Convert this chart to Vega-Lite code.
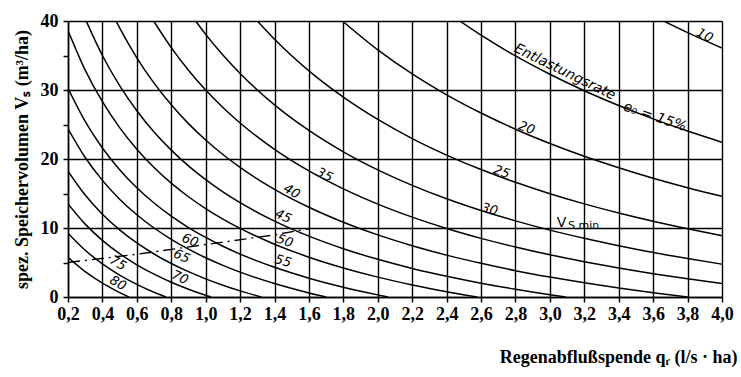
{
"$schema": "https://vega.github.io/schema/vega-lite/v6.json",
"width": 654, "height": 276,
"autosize": "none",
"padding": {"left": 68, "top": 21, "right": 19, "bottom": 80},
"background": "white",
"config": {"view": {"stroke": null}, "axis": {"labelOverlap": false, "labelSeparation": 0}},
"datasets": {
"curves": [
{"e":80,"q":0.2,"v":5.75},{"e":80,"q":0.3,"v":3.67},{"e":80,"q":0.4,"v":2.0},{"e":80,"q":0.5,"v":0.64},{"e":80,"q":0.554,"v":0},
{"e":75,"q":0.2,"v":9.25},{"e":75,"q":0.3,"v":6.78},{"e":75,"q":0.4,"v":4.8},{"e":75,"q":0.5,"v":3.18},{"e":75,"q":0.6,"v":1.83},{"e":75,"q":0.7,"v":0.69},{"e":75,"q":0.769,"v":0},
{"e":70,"q":0.2,"v":13.5},{"e":70,"q":0.3,"v":10.56},{"e":70,"q":0.4,"v":8.2},{"e":70,"q":0.5,"v":6.27},{"e":70,"q":0.6,"v":4.67},{"e":70,"q":0.7,"v":3.31},{"e":70,"q":0.8,"v":2.14},{"e":70,"q":0.9,"v":1.13},{"e":70,"q":1.0,"v":0.25},{"e":70,"q":1.031,"v":0},
{"e":65,"q":0.2,"v":18.25},{"e":65,"q":0.3,"v":14.78},{"e":65,"q":0.4,"v":12.0},{"e":65,"q":0.5,"v":9.73},{"e":65,"q":0.6,"v":7.83},{"e":65,"q":0.7,"v":6.23},{"e":65,"q":0.8,"v":4.86},{"e":65,"q":0.9,"v":3.67},{"e":65,"q":1.0,"v":2.63},{"e":65,"q":1.1,"v":1.71},{"e":65,"q":1.2,"v":0.89},{"e":65,"q":1.323,"v":0},
{"e":60,"q":0.2,"v":24.38},{"e":60,"q":0.3,"v":20.22},{"e":60,"q":0.4,"v":16.9},{"e":60,"q":0.5,"v":14.18},{"e":60,"q":0.6,"v":11.92},{"e":60,"q":0.7,"v":10.0},{"e":60,"q":0.8,"v":8.36},{"e":60,"q":0.9,"v":6.93},{"e":60,"q":1.0,"v":5.69},{"e":60,"q":1.1,"v":4.59},{"e":60,"q":1.2,"v":3.61},{"e":60,"q":1.4,"v":1.95},{"e":60,"q":1.6,"v":0.59},{"e":60,"q":1.7,"v":0},
{"e":55,"q":0.2,"v":30.25},{"e":55,"q":0.3,"v":25.44},{"e":55,"q":0.4,"v":21.6},{"e":55,"q":0.5,"v":18.45},{"e":55,"q":0.6,"v":15.83},{"e":55,"q":0.7,"v":13.62},{"e":55,"q":0.8,"v":11.71},{"e":55,"q":0.9,"v":10.07},{"e":55,"q":1.0,"v":8.63},{"e":55,"q":1.1,"v":7.35},{"e":55,"q":1.2,"v":6.22},{"e":55,"q":1.4,"v":4.3},{"e":55,"q":1.6,"v":2.73},{"e":55,"q":1.8,"v":1.42},{"e":55,"q":2.0,"v":0.31},{"e":55,"q":2.06,"v":0},
{"e":50,"q":0.2,"v":38.63},{"e":50,"q":0.3,"v":32.89},{"e":50,"q":0.4,"v":28.3},{"e":50,"q":0.5,"v":24.55},{"e":50,"q":0.6,"v":21.42},{"e":50,"q":0.7,"v":18.77},{"e":50,"q":0.8,"v":16.5},{"e":50,"q":0.9,"v":14.53},{"e":50,"q":1.0,"v":12.81},{"e":50,"q":1.1,"v":11.29},{"e":50,"q":1.2,"v":9.94},{"e":50,"q":1.4,"v":7.65},{"e":50,"q":1.6,"v":5.77},{"e":50,"q":1.8,"v":4.21},{"e":50,"q":2.0,"v":2.88},{"e":50,"q":2.2,"v":1.75},{"e":50,"q":2.4,"v":0.77},{"e":50,"q":2.577,"v":0},
{"e":45,"q":0.306,"v":40},{"e":45,"q":0.4,"v":35.0},{"e":45,"q":0.5,"v":30.64},{"e":45,"q":0.6,"v":27.0},{"e":45,"q":0.7,"v":23.92},{"e":45,"q":0.8,"v":21.29},{"e":45,"q":0.9,"v":19.0},{"e":45,"q":1.0,"v":17.0},{"e":45,"q":1.1,"v":15.24},{"e":45,"q":1.2,"v":13.67},{"e":45,"q":1.4,"v":11.0},{"e":45,"q":1.6,"v":8.82},{"e":45,"q":1.8,"v":7.0},{"e":45,"q":2.0,"v":5.46},{"e":45,"q":2.2,"v":4.14},{"e":45,"q":2.4,"v":3.0},{"e":45,"q":2.6,"v":2.0},{"e":45,"q":2.8,"v":1.12},{"e":45,"q":3.0,"v":0.33},{"e":45,"q":3.092,"v":0},
{"e":40,"q":0.479,"v":40},{"e":40,"q":0.5,"v":39.0},{"e":40,"q":0.6,"v":34.67},{"e":40,"q":0.7,"v":31.0},{"e":40,"q":0.8,"v":27.86},{"e":40,"q":0.9,"v":25.13},{"e":40,"q":1.0,"v":22.75},{"e":40,"q":1.1,"v":20.65},{"e":40,"q":1.2,"v":18.78},{"e":40,"q":1.4,"v":15.6},{"e":40,"q":1.6,"v":13.0},{"e":40,"q":1.8,"v":10.83},{"e":40,"q":2.0,"v":9.0},{"e":40,"q":2.2,"v":7.43},{"e":40,"q":2.4,"v":6.07},{"e":40,"q":2.6,"v":4.88},{"e":40,"q":2.8,"v":3.82},{"e":40,"q":3.0,"v":2.89},{"e":40,"q":3.2,"v":2.05},{"e":40,"q":3.4,"v":1.3},{"e":40,"q":3.6,"v":0.62},{"e":40,"q":3.8,"v":0},
{"e":35,"q":0.698,"v":40},{"e":35,"q":0.8,"v":36.14},{"e":35,"q":0.9,"v":32.87},{"e":35,"q":1.0,"v":30.0},{"e":35,"q":1.1,"v":27.47},{"e":35,"q":1.2,"v":25.22},{"e":35,"q":1.4,"v":21.4},{"e":35,"q":1.6,"v":18.27},{"e":35,"q":1.8,"v":15.67},{"e":35,"q":2.0,"v":13.46},{"e":35,"q":2.2,"v":11.57},{"e":35,"q":2.4,"v":9.93},{"e":35,"q":2.6,"v":8.5},{"e":35,"q":2.8,"v":7.24},{"e":35,"q":3.0,"v":6.11},{"e":35,"q":3.2,"v":5.11},{"e":35,"q":3.4,"v":4.2},{"e":35,"q":3.6,"v":3.38},{"e":35,"q":3.8,"v":2.64},{"e":35,"q":4.0,"v":1.96},
{"e":30,"q":0.942,"v":40},{"e":30,"q":1.0,"v":38.06},{"e":30,"q":1.1,"v":35.06},{"e":30,"q":1.2,"v":32.39},{"e":30,"q":1.4,"v":27.85},{"e":30,"q":1.6,"v":24.14},{"e":30,"q":1.8,"v":21.04},{"e":30,"q":2.0,"v":18.42},{"e":30,"q":2.2,"v":16.18},{"e":30,"q":2.4,"v":14.23},{"e":30,"q":2.6,"v":12.53},{"e":30,"q":2.8,"v":11.03},{"e":30,"q":3.0,"v":9.69},{"e":30,"q":3.2,"v":8.5},{"e":30,"q":3.4,"v":7.43},{"e":30,"q":3.6,"v":6.45},{"e":30,"q":3.8,"v":5.57},{"e":30,"q":4.0,"v":4.76},
{"e":25,"q":1.3,"v":40},{"e":25,"q":1.4,"v":37.35},{"e":25,"q":1.6,"v":32.77},{"e":25,"q":1.8,"v":28.96},{"e":25,"q":2.0,"v":25.73},{"e":25,"q":2.2,"v":22.96},{"e":25,"q":2.4,"v":20.57},{"e":25,"q":2.6,"v":18.47},{"e":25,"q":2.8,"v":16.62},{"e":25,"q":3.0,"v":14.97},{"e":25,"q":3.2,"v":13.5},{"e":25,"q":3.4,"v":12.18},{"e":25,"q":3.6,"v":10.98},{"e":25,"q":3.8,"v":9.89},{"e":25,"q":4.0,"v":8.89},
{"e":20,"q":1.794,"v":40},{"e":20,"q":2.0,"v":35.81},{"e":20,"q":2.2,"v":32.32},{"e":20,"q":2.4,"v":29.3},{"e":20,"q":2.6,"v":26.66},{"e":20,"q":2.8,"v":24.32},{"e":20,"q":3.0,"v":22.25},{"e":20,"q":3.2,"v":20.39},{"e":20,"q":3.4,"v":18.73},{"e":20,"q":3.6,"v":17.21},{"e":20,"q":3.8,"v":15.84},{"e":20,"q":4.0,"v":14.59},
{"e":15,"q":2.476,"v":40},{"e":15,"q":2.6,"v":37.94},{"e":15,"q":2.8,"v":34.94},{"e":15,"q":3.0,"v":32.28},{"e":15,"q":3.2,"v":29.89},{"e":15,"q":3.4,"v":27.75},{"e":15,"q":3.6,"v":25.81},{"e":15,"q":3.8,"v":24.05},{"e":15,"q":4.0,"v":22.43},
{"e":10,"q":3.66,"v":40},{"e":10,"q":3.8,"v":38.32},{"e":10,"q":4.0,"v":36.09}
],
"vsmin": [
{"q":0.2,"v":5.0},{"q":0.6,"v":6.2},{"q":1.0,"v":7.6},{"q":1.4,"v":9.0},{"q":1.6,"v":9.9}
],
"labels": [
{"t":"10","q":3.9,"v":37.9},
{"t":"Entlastungsrate","q":3.086,"v":32.6},
{"t":"e₀ = 15%","q":3.61,"v":26.1},
{"t":"20","q":2.865,"v":24.5},
{"t":"25","q":2.72,"v":18.1},
{"t":"30","q":2.65,"v":12.7},
{"t":"35","q":1.69,"v":17.7},
{"t":"40","q":1.5,"v":15.3},
{"t":"45","q":1.45,"v":11.7},
{"t":"50","q":1.46,"v":8.1},
{"t":"55","q":1.45,"v":5.2},
{"t":"60","q":0.91,"v":8.2},
{"t":"65","q":0.86,"v":5.9},
{"t":"70","q":0.85,"v":2.8},
{"t":"75","q":0.49,"v":4.9},
{"t":"80","q":0.49,"v":2.0}
],
"vlab": [
{"t":"V","q":3.04,"v":10.1},
{"t":"S min","q":3.105,"v":9.8}
]
},
"encoding": {
"x": {"field": "q", "type": "quantitative",
"scale": {"domain": [0.2, 4.0], "nice": false, "zero": false},
"axis": {
"values": [0.2,0.4,0.6,0.8,1.0,1.2,1.4,1.6,1.8,2.0,2.2,2.4,2.6,2.8,3.0,3.2,3.4,3.6,3.8,4.0],
"labelExpr": "replace(format(datum.value, '.1f'), '.', ',')",
"labelFont": "Liberation Serif", "labelFontSize": 18, "labelFontWeight": "bold", "labelColor": "black", "labelPadding": 3,
"labelFlush": false, "labelOverlap": false, "labelBound": false, "labelSeparation": 0,
"tickSize": 5, "tickColor": "black", "tickWidth": 1.5,
"domainColor": "black", "domainWidth": 1.5,
"grid": true, "gridColor": "black", "gridWidth": 1.4, "gridOpacity": 1,
"title": "Regenabflußspende  qᵣ  (l/s · ha)",
"titleFont": "Liberation Serif", "titleFontSize": 18, "titleFontWeight": "bold", "titleColor": "black",
"titleAnchor": "end", "titleAlign": "right", "titleBaseline": "middle", "titleX": 669, "titleY": 60
}},
"y": {"field": "v", "type": "quantitative",
"scale": {"domain": [0, 40], "nice": false},
"axis": {
"values": [0,5,10,15,20,25,30,35,40],
"labelExpr": "datum.value % 10 === 0 ? datum.label : ''",
"labelFont": "Liberation Serif", "labelFontSize": 18, "labelFontWeight": "bold", "labelColor": "black", "labelPadding": 5,
"labelFlush": false, "labelOverlap": false,
"tickSize": 5, "tickColor": "black", "tickWidth": 1.5,
"domainColor": "black", "domainWidth": 1.5,
"grid": true, "gridColor": "black", "gridWidth": 1.4,
"gridOpacity": {"condition": {"test": "datum.value % 10 === 0", "value": 1}, "value": 0},
"title": "spez. Speichervolumen  Vₛ  (m³/ha)",
"titleFont": "Liberation Serif", "titleFontSize": 18, "titleFontWeight": "bold", "titleColor": "black",
"titleAngle": -90, "titleAlign": "center", "titleBaseline": "middle", "titleX": -46, "titleY": 138
}}
},
"layer": [
{
"data": {"name": "curves"},
"mark": {"type": "line", "interpolate": "monotone", "color": "black", "strokeWidth": 1.5, "clip": true},
"encoding": {"detail": {"field": "e", "type": "nominal"}}
},
{
"data": {"name": "vsmin"},
"mark": {"type": "line", "color": "black", "strokeWidth": 1.4, "strokeDash": [12, 5, 2, 5]},
"encoding": {}
},
{
"data": {"name": "labels"},
"transform": [{"filter": {"field": "t", "oneOf": ["10", "35"]}}],
"mark": {"type": "text", "font": "DejaVu Sans", "fontStyle": "italic", "fontSize": 13, "angle": 27, "color": "black"},
"encoding": {"text": {"field": "t"}}
},
{
"data": {"name": "labels"},
"transform": [{"filter": {"field": "t", "oneOf": ["40", "75", "80"]}}],
"mark": {"type": "text", "font": "DejaVu Sans", "fontStyle": "italic", "fontSize": 13, "angle": 30, "color": "black"},
"encoding": {"text": {"field": "t"}}
},
{
"data": {"name": "labels"},
"transform": [{"filter": {"field": "t", "oneOf": ["45", "65", "70"]}}],
"mark": {"type": "text", "font": "DejaVu Sans", "fontStyle": "italic", "fontSize": 13, "angle": 25, "color": "black"},
"encoding": {"text": {"field": "t"}}
},
{
"data": {"name": "labels"},
"transform": [{"filter": {"field": "t", "oneOf": ["50", "60", "25", "20"]}}],
"mark": {"type": "text", "font": "DejaVu Sans", "fontStyle": "italic", "fontSize": 13, "angle": 20, "color": "black"},
"encoding": {"text": {"field": "t"}}
},
{
"data": {"name": "labels"},
"transform": [{"filter": {"field": "t", "oneOf": ["30", "55"]}}],
"mark": {"type": "text", "font": "DejaVu Sans", "fontStyle": "italic", "fontSize": 13, "angle": 16, "color": "black"},
"encoding": {"text": {"field": "t"}}
},
{
"data": {"name": "labels"},
"transform": [{"filter": {"field": "t", "equal": "Entlastungsrate"}}],
"mark": {"type": "text", "font": "DejaVu Sans", "fontStyle": "italic", "fontSize": 14, "angle": 26, "color": "black"},
"encoding": {"text": {"field": "t"}}
},
{
"data": {"name": "labels"},
"transform": [{"filter": {"field": "t", "equal": "e₀ = 15%"}}],
"mark": {"type": "text", "font": "DejaVu Sans", "fontStyle": "italic", "fontSize": 14, "angle": 19, "color": "black"},
"encoding": {"text": {"field": "t"}}
},
{
"data": {"name": "vlab"},
"transform": [{"filter": {"field": "t", "equal": "V"}}],
"mark": {"type": "text", "font": "DejaVu Sans", "fontSize": 14, "align": "left", "baseline": "alphabetic", "color": "black"},
"encoding": {"text": {"field": "t"}}
},
{
"data": {"name": "vlab"},
"transform": [{"filter": {"field": "t", "equal": "S min"}}],
"mark": {"type": "text", "font": "DejaVu Sans", "fontSize": 11, "align": "left", "baseline": "alphabetic", "color": "black"},
"encoding": {"text": {"field": "t"}}
}
]
}
